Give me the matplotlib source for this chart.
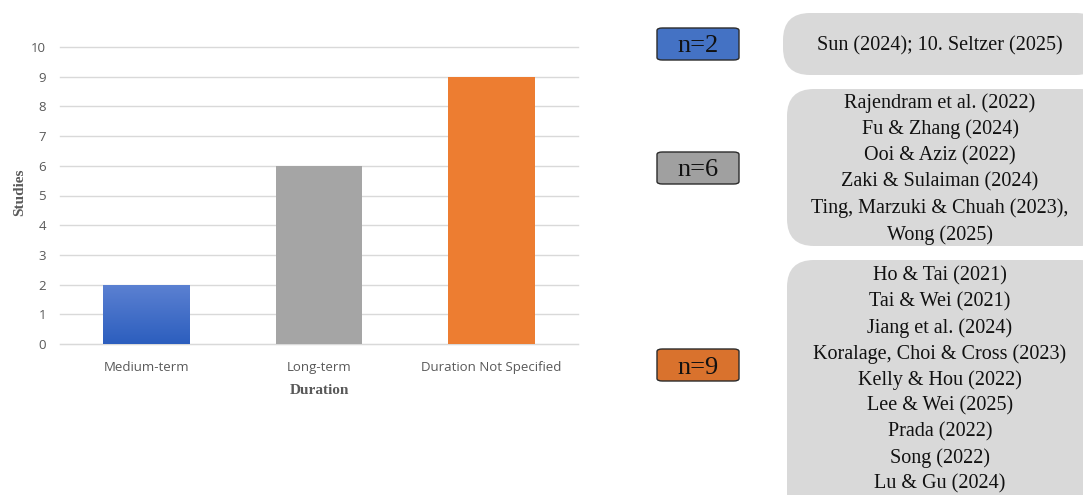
import matplotlib
matplotlib.use("Agg")
import matplotlib.pyplot as plt
import numpy as np
from matplotlib.patches import FancyBboxPatch
from matplotlib.colors import LinearSegmentedColormap

categories = ["Medium-term", "Long-term", "Duration Not Specified"]
studies = [2, 6, 9]
bar_colors = ["#4472C4", "#A5A5A5", "#ED7D31"]
yticks = list(range(0, 11))

badge_labels = ["n=2", "n=6", "n=9"]
badge_colors = ["#4472C4", "#A0A0A0", "#D9722D"]

group_sun = ["Sun (2024); 10. Seltzer (2025)"]
group_six = ["Rajendram et al. (2022)", "Fu & Zhang (2024)", "Ooi & Aziz (2022)",
             "Zaki & Sulaiman (2024)", "Ting, Marzuki & Chuah (2023),", "Wong (2025)"]
group_nine = ["Ho & Tai (2021)", "Tai & Wei (2021)", "Jiang et al. (2024)",
              "Koralage, Choi & Cross (2023)", "Kelly & Hou (2022)", "Lee & Wei (2025)",
              "Prada (2022)", "Song (2022)", "Lu & Gu (2024)"]

W, H = 1083, 495
fig = plt.figure(figsize=(W / 100, H / 100), dpi=100)

def fx(px):
    return px / W

def fy(py):
    return 1 - py / H

ax_l, ax_r = 60, 578
ax = fig.add_axes([fx(ax_l), fy(344), fx(ax_r) - fx(ax_l), fy(47) - fy(344)])
x = np.arange(len(categories))
bars = ax.bar(x, studies, width=0.5, color=bar_colors, zorder=3)

# gradient on first bar
grad = np.linspace(0, 1, 256).reshape(-1, 1)
cmap = LinearSegmentedColormap.from_list("bl", ["#2C5EBE", "#5C81D2"])
b0 = bars[0]
im = ax.imshow(grad, cmap=cmap, aspect="auto", origin="lower",
               extent=[b0.get_x(), b0.get_x() + b0.get_width(), 0, b0.get_height()],
               zorder=4)
im.set_clip_path(b0)

ax.set_xlim(-0.5, len(categories) - 0.5)
ax.set_ylim(0, 10)
ax.set_yticks(yticks)
ax.set_xticks(x)
ax.set_xticklabels(categories)
ax.grid(axis="y", color="#D9D9D9", linewidth=1, zorder=0)
for gl in ax.get_ygridlines():
    gl.set_clip_on(False)
for s in ["top", "right", "left"]:
    ax.spines[s].set_visible(False)
ax.spines["bottom"].set_color("#D9D9D9")
ax.tick_params(axis="both", length=0, labelsize=9.5, labelcolor="#595959")
ax.tick_params(axis="x", pad=12.5)
ax.tick_params(axis="y", pad=10)
for t in ax.get_xticklabels() + ax.get_yticklabels():
    t.set_family("Open Sans")
ax.set_xlabel("Duration", family="Liberation Serif", fontweight="bold",
              fontsize=11, color="#595959", labelpad=7)
ax.set_ylabel("Studies", family="Liberation Serif", fontweight="bold",
              fontsize=11, color="#595959")
ax.yaxis.set_label_coords((26 - ax_l) / (ax_r - ax_l), 0.51)
ax.set_xlim(-0.5, len(categories) - 0.5)

# badges
badge_boxes = [(657, 28, 82, 32), (657, 152, 82, 32), (657, 349, 82, 32)]
for (bx, by, bw, bh), lab, col in zip(badge_boxes, badge_labels, badge_colors):
    p = FancyBboxPatch((fx(bx), fy(by + bh)), fx(bw), bh / H,
                       boxstyle="round,pad=0,rounding_size=0.005",
                       transform=fig.transFigure, facecolor=col,
                       edgecolor="#2B2B2B", linewidth=1.0)
    fig.patches.append(p)
    fig.text(fx(bx + bw / 2), fy(by + bh / 2), lab, ha="center",
             va="center_baseline", fontsize=19, family="Liberation Serif",
             color="#111111")

# grey boxes
grey_boxes = [(783, 13, 320, 62), (787, 89, 320, 157), (787, 260, 320, 260)]
groups = [group_sun, group_six, group_nine]
first_line_y = [46, 103, 276]
spacings = [26.4, 26.4, 26.0]
for (gx, gy, gw, gh), lines, y0, sp in zip(grey_boxes, groups, first_line_y, spacings):
    p = FancyBboxPatch((fx(gx), fy(gy + gh)), fx(gw), gh / H,
                       boxstyle="round,pad=0,rounding_size=0.025",
                       mutation_aspect=W / H,
                       transform=fig.transFigure, facecolor="#D9D9D9",
                       edgecolor="none", clip_on=False)
    fig.patches.append(p)
    for i, line in enumerate(lines):
        fig.text(fx(940), fy(y0 + i * sp), line, ha="center", va="center",
                 fontsize=14.5, family="Liberation Serif", color="#111111")

fig.savefig("out.png", dpi=100)
